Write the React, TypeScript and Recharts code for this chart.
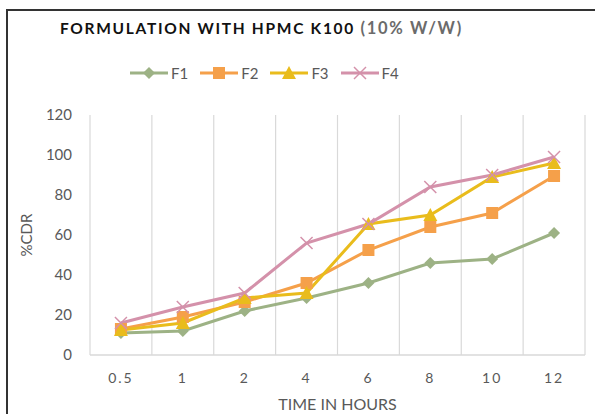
import React from "react";
import { LineChart, Line, XAxis, YAxis, CartesianGrid } from "recharts";

const categories = ["0.5", "1", "2", "4", "6", "8", "10", "12"];
const f1 = [11, 12, 22, 28.5, 36, 46, 48, 61];
const f2 = [13, 19, 26.5, 36, 52.5, 64, 71, 89.5];
const f3 = [12.5, 16, 28.5, 31, 65.5, 70, 89, 96];
const f4 = [16, 24, 31, 56, 65.5, 84, 90, 99];
const yTicks = [0, 20, 40, 60, 80, 100, 120];
const gridTicks = [-0.5, 0.5, 1.5, 2.5, 3.5, 4.5, 5.5, 6.5, 7.5];

const data = categories.map((c, i) => ({ idx: i, label: c, F1: f1[i], F2: f2[i], F3: f3[i], F4: f4[i] }));

const C1 = "#9db285";
const C2 = "#f5a04a";
const C3 = "#e9bc1c";
const C4 = "#d491aa";
const FONT = "Lato, 'Liberation Sans', sans-serif";

const Marker = ({ kind, cx, cy, color }: any) => {
  if (cx == null || cy == null) return null;
  const s = 6;
  if (kind === "diamond")
    return <polygon points={`${cx},${cy - s} ${cx + s},${cy} ${cx},${cy + s} ${cx - s},${cy}`} fill={color} />;
  if (kind === "square") return <rect x={cx - s} y={cy - s} width={2 * s} height={2 * s} fill={color} />;
  if (kind === "triangle")
    return <polygon points={`${cx},${cy - s - 1} ${cx + s + 1},${cy + s} ${cx - s - 1},${cy + s}`} fill={color} />;
  return (
    <g stroke={color} strokeWidth={1.5}>
      <line x1={cx - s} y1={cy - s} x2={cx + s} y2={cy + s} />
      <line x1={cx - s} y1={cy + s} x2={cx + s} y2={cy - s} />
    </g>
  );
};

const series = [
  { key: "F1", color: C1, kind: "diamond" },
  { key: "F2", color: C2, kind: "square" },
  { key: "F3", color: C3, kind: "triangle" },
  { key: "F4", color: C4, kind: "cross" },
];

const LegendBlock = () => (
  <div
    style={{
      position: "absolute",
      left: 130,
      top: 64,
      display: "flex",
      gap: 12,
      fontFamily: FONT,
      fontSize: 15,
      color: "#595959",
    }}
  >
    {series.map((s) => (
      <div key={s.key} style={{ display: "flex", alignItems: "center" }}>
        <svg width={38} height={16}>
          <line x1={0} y1={8} x2={38} y2={8} stroke={s.color} strokeWidth={3} />
          <Marker kind={s.kind} cx={19} cy={8} color={s.color} />
        </svg>
        <span style={{ marginLeft: 3 }}>{s.key}</span>
      </div>
    ))}
  </div>
);

export default function App() {
  return (
    <div style={{ position: "fixed", left: 0, top: 0, width: 595, height: 414, overflow: "hidden", background: "#fff" }}>
      <svg width={595} height={414} style={{ position: "absolute", left: 0, top: 0 }}>
        <path d="M7,600 L7,10 L700,10" fill="none" stroke="#333" strokeWidth={2} />
      </svg>
      <div
        style={{
          position: "absolute",
          left: 60,
          top: 18,
          whiteSpace: "nowrap",
          fontFamily: FONT,
          fontWeight: 700,
          fontSize: 15.5,
          letterSpacing: 1.7,
          color: "#111",
        }}
      >
        FORMULATION WITH HPMC K100 <span style={{ color: "#6b6b6b", fontSize: 16.5 }}>(10% W/W)</span>
      </div>
      <LegendBlock />
      <div style={{ position: "absolute", left: 0, top: 0 }}>
        <LineChart width={595} height={414} data={data} margin={{ top: 115, right: 10, bottom: 29, left: 50 }}>
          <CartesianGrid xAxisId="grid" horizontal={false} vertical stroke="#d9d9d9" strokeWidth={1.2} />
          <XAxis xAxisId="grid" type="number" dataKey="idx" domain={[-0.5, 7.5]} ticks={gridTicks} hide />
          <XAxis
            type="number"
            dataKey="idx"
            domain={[-0.5, 7.5]}
            ticks={[0, 1, 2, 3, 4, 5, 6, 7]}
            tickFormatter={(v: number) => categories[v]}
            interval={0}
            height={30}
            tickLine={false}
            axisLine={{ stroke: "#d9d9d9", strokeWidth: 1.5 }}
            tickMargin={12}
            tick={{ fill: "#595959", fontSize: 14, fontFamily: FONT, letterSpacing: 2 }}
            label={{ value: "TIME IN HOURS", position: "insideBottom", offset: -25, fill: "#595959", fontSize: 16, fontFamily: FONT }}
          />
          <YAxis
            width={40}
            domain={[0, 120]}
            ticks={yTicks}
            interval={0}
            tickLine={false}
            axisLine={false}
            tickMargin={12}
            tick={{ fill: "#595959", fontSize: 15, fontFamily: FONT }}
            label={{ value: "%CDR", angle: -90, position: "insideLeft", offset: -23, fill: "#595959", fontSize: 15, fontFamily: FONT, style: { textAnchor: "middle" } }}
          />
          {series.map((s) => (
            <Line
              key={s.key}
              dataKey={s.key}
              stroke={s.color}
              strokeWidth={3}
              isAnimationActive={false}
              dot={(p: any) => <Marker key={`${s.key}-${p.index}`} kind={s.kind} cx={p.cx} cy={p.cy} color={s.color} />}
              activeDot={false}
            />
          ))}
        </LineChart>
      </div>
    </div>
  );
}
